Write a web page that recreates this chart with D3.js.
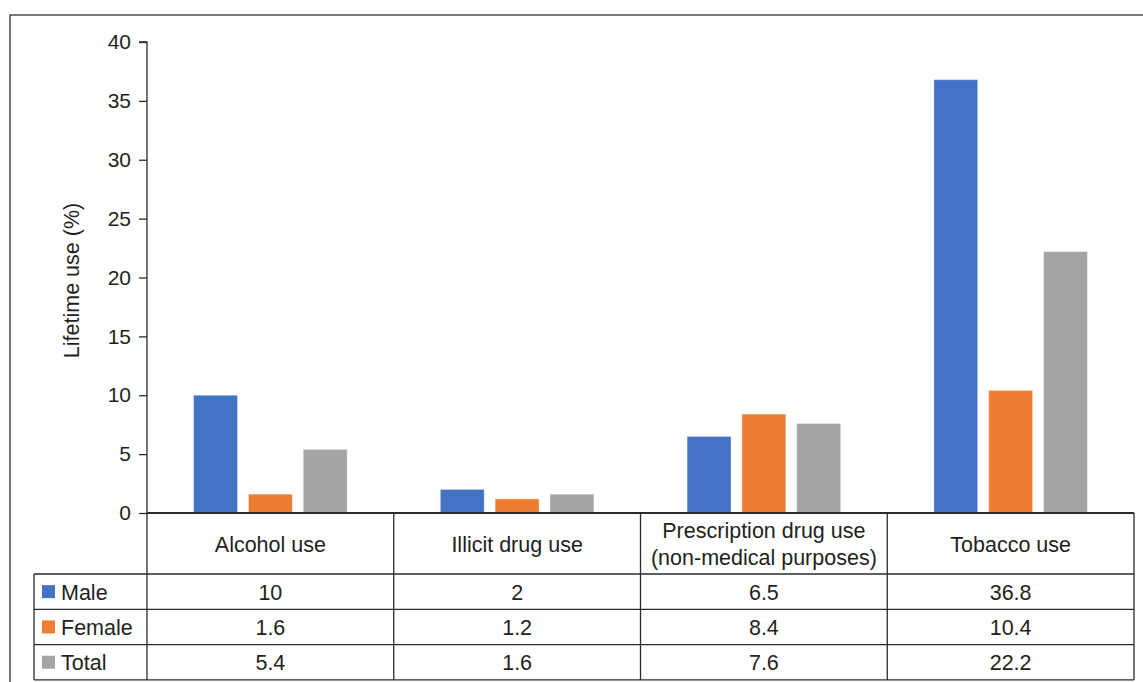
<!DOCTYPE html>
<html>
<head>
<meta charset="utf-8">
<script src="https://cdn.jsdelivr.net/npm/d3@7"></script>
<style>
  html, body { margin: 0; padding: 0; background: #fff; }
  svg { display: block; font-family: "Liberation Sans", Arial, Helvetica, sans-serif; }
</style>
</head>
<body>
<svg id="chart" width="1143" height="682"></svg>
<script>
// Lifetime substance use by sex, with data table underneath
const categories = ["Alcohol use", "Illicit drug use", "Prescription drug use\n(non-medical purposes)", "Tobacco use"];
const seriesNames = ["Male", "Female", "Total"];
const maleValues = [10, 2, 6.5, 36.8];
const femaleValues = [1.6, 1.2, 8.4, 10.4];
const totalValues = [5.4, 1.6, 7.6, 22.2];
const yTicks = [0, 5, 10, 15, 20, 25, 30, 35, 40];
const colors = ["#4472C4", "#ED7D31", "#A5A5A5"];
const yTitle = "Lifetime use (%)";

const seriesValues = [maleValues, femaleValues, totalValues];

const svg = d3.select("#chart");
const textColor = "#231f20";
const lineColor = "#2b2b2b";
const tableFont = "21.5px";

// plot geometry
const plotLeft = 147, plotRight = 1134, plotTop = 42, plotBase = 513;
const headerBottom = 574, rowH = 35.3;
const legendLeft = 34;

// outer frame (only top and left edges fall inside the canvas)
svg.append("rect")
  .attr("x", 10).attr("y", 15).attr("width", 1300).attr("height", 800)
  .attr("fill", "none").attr("stroke", "#333").attr("stroke-width", 1.3);

const x0 = d3.scaleBand().domain(d3.range(categories.length)).range([plotLeft, plotRight]).padding(0);
const x1 = d3.scaleBand().domain(d3.range(seriesNames.length))
  .range([0, x0.bandwidth()]).paddingInner(0.2).paddingOuter(0.85);
const y = d3.scaleLinear().domain([0, 40]).range([plotBase, plotTop]);

// bars
const groups = svg.append("g").selectAll("g")
  .data(categories.map((c, i) => i))
  .join("g")
  .attr("transform", i => `translate(${x0(i)},0)`);

groups.selectAll("rect")
  .data(i => seriesValues.map((vals, s) => ({ s, v: vals[i] })))
  .join("rect")
  .attr("x", d => x1(d.s))
  .attr("y", d => y(d.v))
  .attr("width", x1.bandwidth())
  .attr("height", d => y(0) - y(d.v))
  .attr("fill", d => colors[d.s])
  .attr("stroke", "rgba(255,255,255,0.35)")
  .attr("stroke-width", 1);

// y axis
const yAxis = d3.axisLeft(y).tickValues(yTicks).tickSize(8).tickPadding(8).tickFormat(d3.format("d"));
const ya = svg.append("g").attr("transform", `translate(${plotLeft},0)`).call(yAxis);
ya.select(".domain").attr("stroke", lineColor).attr("stroke-width", 1.3).attr("d", `M-8,${plotTop}H0V${plotBase}`);
ya.selectAll(".tick line").attr("stroke", lineColor).attr("stroke-width", 1.3);
ya.selectAll(".tick text").attr("fill", textColor).style("font-size", "21px")
  .style("font-family", "'Liberation Sans', Arial, sans-serif");

// y axis title
svg.append("text")
  .attr("transform", `translate(72,${(plotTop + plotBase) / 2 + 3}) rotate(-90)`)
  .attr("text-anchor", "middle")
  .attr("dominant-baseline", "central")
  .attr("fill", textColor)
  .style("font-size", "21.5px")
  .text(yTitle);

// data table
const table = svg.append("g");
const tableBottom = headerBottom + rowH * seriesNames.length;
const hLine = (xa, xb, yp, w) => table.append("line")
  .attr("x1", xa).attr("x2", xb).attr("y1", yp).attr("y2", yp)
  .attr("stroke", lineColor).attr("stroke-width", w);
const vLine = (xp, ya_, yb) => table.append("line")
  .attr("x1", xp).attr("x2", xp).attr("y1", ya_).attr("y2", yb)
  .attr("stroke", lineColor).attr("stroke-width", 1.3);

hLine(plotLeft, plotRight, plotBase, 2);
for (let r = 0; r <= seriesNames.length; r++) {
  hLine(legendLeft, plotRight, headerBottom + r * rowH, 1.3);
}
vLine(legendLeft, headerBottom, tableBottom);
vLine(plotLeft, plotBase, tableBottom);
categories.forEach((c, i) => vLine(x0(i) + x0.bandwidth(), plotBase, tableBottom));

// category headers
categories.forEach((c, i) => {
  const lines = c.split("\n");
  const cx = x0(i) + x0.bandwidth() / 2;
  const cy = (plotBase + headerBottom) / 2 + 1;
  const lh = 27;
  lines.forEach((ln, k) => {
    table.append("text")
      .attr("x", cx)
      .attr("y", cy + (k - (lines.length - 1) / 2) * lh)
      .attr("text-anchor", "middle")
      .attr("dominant-baseline", "central")
      .attr("fill", textColor)
      .style("font-size", tableFont)
      .text(ln);
  });
});

// rows: legend key + values
seriesNames.forEach((name, s) => {
  const cy = headerBottom + s * rowH + rowH / 2;
  table.append("rect")
    .attr("x", 42).attr("y", cy - 6.5).attr("width", 13).attr("height", 13)
    .attr("fill", colors[s]);
  table.append("text")
    .attr("x", 61).attr("y", cy + 1)
    .attr("dominant-baseline", "central")
    .attr("fill", textColor)
    .style("font-size", tableFont)
    .text(name);
  seriesValues[s].forEach((v, i) => {
    table.append("text")
      .attr("x", x0(i) + x0.bandwidth() / 2)
      .attr("y", cy + 1)
      .attr("text-anchor", "middle")
      .attr("dominant-baseline", "central")
      .attr("fill", textColor)
      .style("font-size", tableFont)
      .text(v);
  });
});
</script>
</body>
</html>
